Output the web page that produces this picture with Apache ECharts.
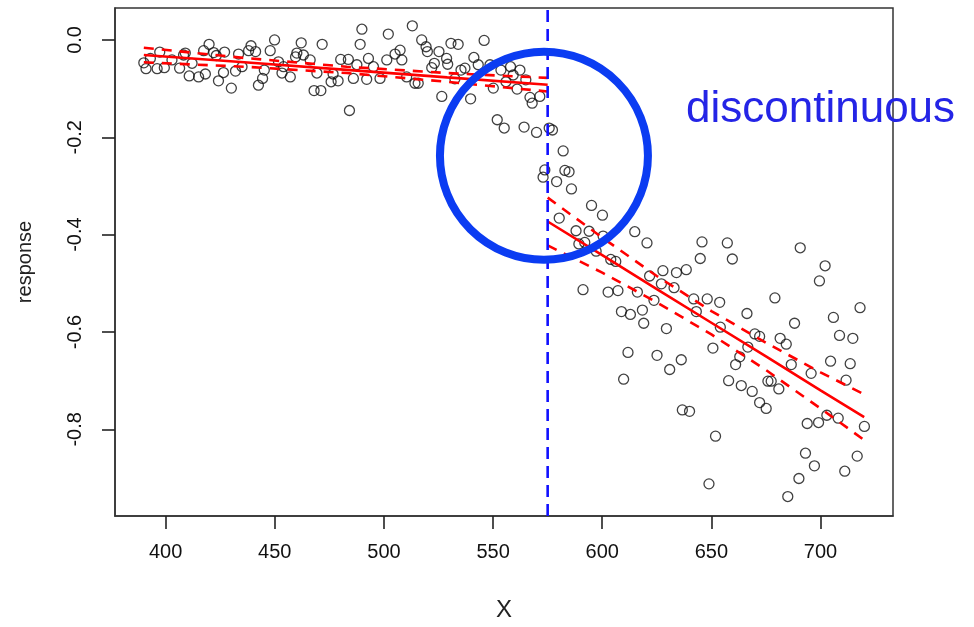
<!DOCTYPE html>
<html>
<head>
<meta charset="utf-8">
<script src="https://cdn.jsdelivr.net/npm/echarts@6/dist/echarts.min.js"></script>
<style>
  html, body { margin: 0; padding: 0; background: #fff; }
  #chart { width: 974px; height: 627px; }
</style>
</head>
<body>
<div id="chart"></div>
<script>
// Tick positions for both axes
const xTicks = [400, 450, 500, 550, 600, 650, 700];
const yTicks = [-0.8, -0.6, -0.4, -0.2, 0.0];

// Cutoff of the running variable
const cutoff = 575;

// Observations below the cutoff [X, response]
const leftObs = [
  [390,-0.047],[391,-0.059],[393,-0.038],[396.1,-0.059],[397.3,-0.025],[399.4,-0.057],[402.9,-0.041],
  [406.4,-0.058],[408.2,-0.031],[409,-0.027],[410.8,-0.074],[412.1,-0.048],[415.1,-0.076],[417.4,-0.022],
  [418.2,-0.070],[419.9,-0.009],[422,-0.026],[423.2,-0.032],[424.2,-0.084],[426.5,-0.067],[427,-0.025],
  [430.1,-0.099],[432,-0.064],[433.4,-0.029],[435,-0.055],[438,-0.022],[439.1,-0.012],[441.2,-0.024],
  [442.5,-0.093],[444.4,-0.079],[445.2,-0.062],[447.9,-0.022],[449.9,0.000],[451.7,-0.045],[453.3,-0.068],
  [454,-0.055],[457.1,-0.076],[459.5,-0.035],[460.1,-0.027],[462.1,-0.006],[463.1,-0.031],[466.2,-0.041],
  [468,-0.104],[469.3,-0.068],[471.1,-0.104],[471.7,-0.009],[475.8,-0.086],[476.7,-0.070],[479,-0.084],
  [480.2,-0.040],[483.7,-0.040],[484.2,-0.145],[486,-0.079],[487.6,-0.051],[489.1,-0.009],[489.9,0.022],
  [492.1,-0.081],[492.9,-0.038],[495.2,-0.055],[498.2,-0.079],[501.3,-0.041],[502,0.012],[505.1,-0.029],
  [507.4,-0.021],[508.2,-0.041],[510.4,-0.076],[513,0.029],[514.2,-0.089],[515.7,-0.089],[517.3,0.000],
  [519.3,-0.014],[519.9,-0.024],[521.9,-0.057],[523.1,-0.048],[525.2,-0.024],[526.5,-0.116],[528.7,-0.038],
  [529.2,-0.050],[530.7,-0.007],[532.5,-0.080],[534,-0.009],[535.3,-0.062],[537.1,-0.058],[539.7,-0.121],
  [541.2,-0.036],[543.2,-0.051],[545.9,-0.001],[548.6,-0.051],[550.1,-0.099],[551.9,-0.164],[553.6,-0.062],
  [555.1,-0.181],[555.9,-0.086],[558,-0.055],[559.2,-0.072],[561,-0.101],[562.3,-0.062],[564.2,-0.179],
  [565,-0.082],[566.9,-0.118],[567.9,-0.130],[569.9,-0.190],[571.4,-0.116],[572.9,-0.282],[573.7,-0.267]
];

// Observations above the cutoff [X, response]
const rightObs = [
  [575.7,-0.181],[577.2,-0.185],[582.1,-0.228],[582.9,-0.268],[584.8,-0.271],[579.1,-0.291],[585.9,-0.306],
  [595.1,-0.340],[600.1,-0.360],[580.3,-0.366],[588,-0.392],[594,-0.393],[600.4,-0.403],[589.3,-0.419],
  [592,-0.416],[597.2,-0.434],[614.9,-0.394],[620.5,-0.417],[645.7,-0.415],[644.9,-0.449],[603.9,-0.451],
  [606.2,-0.455],[627.8,-0.474],[634,-0.478],[638.5,-0.472],[621.7,-0.485],[627.1,-0.501],[632.9,-0.509],
  [591.2,-0.513],[602.7,-0.518],[607.2,-0.515],[616.1,-0.518],[641.9,-0.532],[648.1,-0.532],[653.8,-0.539],
  [623.7,-0.535],[643.1,-0.558],[608.8,-0.558],[612.9,-0.564],[618.4,-0.555],[619,-0.582],[629.4,-0.593],
  [650.7,-0.633],[611.8,-0.642],[625.1,-0.648],[636.2,-0.657],[630.9,-0.677],[609.8,-0.697],[657.3,-0.417],
  [659.6,-0.450],[690.7,-0.427],[702.1,-0.464],[699.5,-0.495],[679.1,-0.530],[666.3,-0.562],[718.1,-0.550],
  [705.9,-0.570],[688.1,-0.582],[654.1,-0.590],[669.9,-0.604],[672.1,-0.609],[681.5,-0.613],[684.3,-0.625],
  [708.7,-0.607],[714.8,-0.613],[666.7,-0.631],[663,-0.651],[661.1,-0.667],[686.6,-0.667],[704.6,-0.660],
  [713.6,-0.665],[695.7,-0.685],[711.7,-0.699],[657.9,-0.700],[663.7,-0.710],[668.7,-0.722],[675.9,-0.701],
  [677.4,-0.701],[680.9,-0.717],[672.1,-0.745],[675.1,-0.757],[636.7,-0.760],[640,-0.763],[651.9,-0.814],
  [648.9,-0.912],[693.9,-0.788],[699.1,-0.786],[702.9,-0.771],[708.1,-0.777],[720.1,-0.794],[693.1,-0.849],
  [697.2,-0.875],[716.8,-0.855],[711.1,-0.886],[690.1,-0.901],[685,-0.938]
];

// Fitted line and confidence band, left of the cutoff
const leftX     = [390, 436, 483, 529, 575];
const leftFit   = [-0.031, -0.046, -0.0615, -0.077, -0.092];
const leftUpper = [-0.016, -0.037, -0.055, -0.068, -0.078];
const leftLower = [-0.046, -0.055, -0.068, -0.086, -0.106];

// Fitted line and confidence band, right of the cutoff
const rightX     = [575, 600, 625, 650, 675, 700, 720];
const rightFit   = [-0.373, -0.442, -0.512, -0.581, -0.650, -0.720, -0.775];
const rightUpper = [-0.324, -0.406, -0.485, -0.557, -0.622, -0.683, -0.728];
const rightLower = [-0.422, -0.478, -0.539, -0.605, -0.678, -0.757, -0.822];

// Axis ranges (4% padding around the data, R style)
const xRange = [376.8, 733.2];
const yRange = [-0.978, 0.0656];

const pairs = (xs, ys) => xs.map((x, i) => [x, ys[i]]);

const chart = echarts.init(document.getElementById('chart'), null, { renderer: 'canvas' });

const labelFont = { fontFamily: 'Liberation Sans, Arial, sans-serif', fontSize: 20, color: '#111' };
const frameLine = { color: '#333', width: 1.5 };
const tickStyle = { color: '#222', width: 1.6 };
const tickLength = 13;

const redSolid = { color: '#ff0000', width: 2.6, type: 'solid' };
const redDash  = { color: '#ff0000', width: 2.6, type: [10, 8] };

function lineSeries(data, style, z) {
  return {
    type: 'line', data, showSymbol: false, symbol: 'none', silent: true,
    lineStyle: style, z, animation: false
  };
}

chart.setOption({
  animation: false,
  backgroundColor: '#fff',
  grid: {
    left: 115, right: 81, top: 8, bottom: 110,
    show: true, borderColor: '#333', borderWidth: 1.5, backgroundColor: 'transparent'
  },
  xAxis: {
    type: 'value', min: xRange[0], max: xRange[1], position: 'bottom',
    name: 'X', nameLocation: 'middle', nameGap: 82,
    nameTextStyle: { fontFamily: 'Liberation Sans, Arial, sans-serif', fontSize: 24, color: '#222' },
    axisLine: { show: true, onZero: false, lineStyle: frameLine },
    axisTick: { show: true, inside: false, length: tickLength, customValues: xTicks, lineStyle: tickStyle },
    axisLabel: Object.assign({ customValues: xTicks, margin: 26 }, labelFont),
    splitLine: { show: false }
  },
  yAxis: {
    type: 'value', min: yRange[0], max: yRange[1], position: 'left',
    name: 'response', nameLocation: 'middle', nameGap: 80, nameRotate: 90,
    nameTextStyle: { fontFamily: 'Liberation Sans, Arial, sans-serif', fontSize: 20, color: '#222' },
    axisLine: { show: true, onZero: false, lineStyle: frameLine },
    axisTick: { show: true, inside: false, length: tickLength, customValues: yTicks, lineStyle: tickStyle },
    axisLabel: Object.assign({
      customValues: yTicks, margin: 30, rotate: 90,
      formatter: v => Number(v).toFixed(1)
    }, labelFont),
    splitLine: { show: false }
  },
  series: [
    {
      type: 'scatter', data: leftObs.concat(rightObs), symbol: 'circle', symbolSize: 10,
      itemStyle: { color: 'rgba(0,0,0,0)', borderColor: '#111', borderWidth: 1.3 },
      z: 2, silent: true
    },
    lineSeries(pairs(leftX, leftFit), redSolid, 3),
    lineSeries(pairs(leftX, leftUpper), redDash, 3),
    lineSeries(pairs(leftX, leftLower), redDash, 3),
    lineSeries(pairs(rightX, rightFit), redSolid, 3),
    lineSeries(pairs(rightX, rightUpper), redDash, 3),
    lineSeries(pairs(rightX, rightLower), redDash, 3),
    lineSeries([[cutoff, yRange[0]], [cutoff, yRange[1]]], { color: '#1010ff', width: 2.6, type: [12, 7] }, 4)
  ]
});

// Annotation highlighting the jump at the cutoff
const ringCenter = chart.convertToPixel({ gridIndex: 0 }, [573.3, -0.238]);
chart.setOption({
  graphic: [
    {
      type: 'circle', z: 10, silent: true,
      shape: { cx: ringCenter[0], cy: ringCenter[1], r: 104 },
      style: { fill: 'none', stroke: '#0b3cf2', lineWidth: 8 }
    },
    {
      type: 'text', z: 10, silent: true, x: 686, y: 110,
      style: {
        text: 'discontinuous', fill: '#2424e6',
        font: '44px "Liberation Sans", Arial, sans-serif', verticalAlign: 'middle', align: 'left'
      }
    }
  ]
});
</script>
</body>
</html>
